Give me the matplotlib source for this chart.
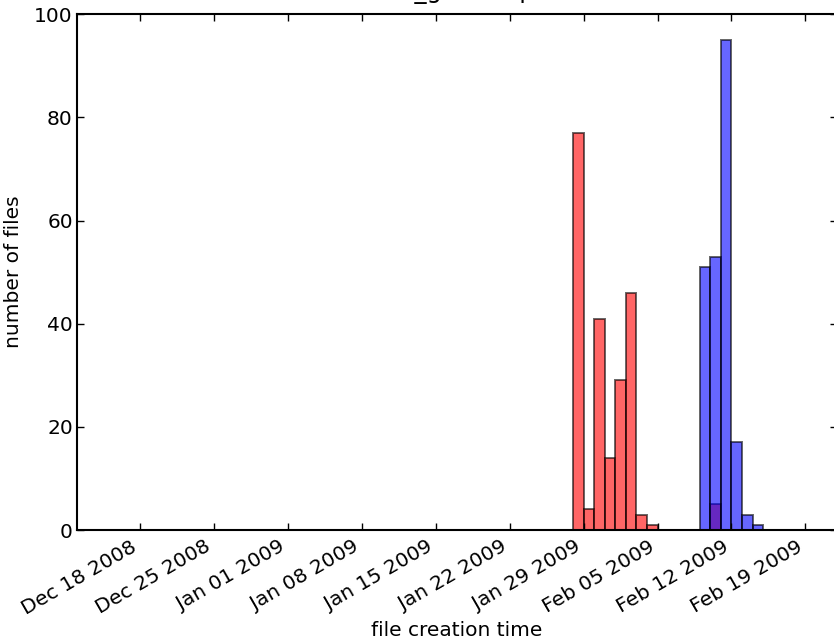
import datetime
import matplotlib
matplotlib.use('Agg')
import matplotlib.pyplot as plt
import matplotlib.dates as mdates

# files per day, first batch (red) and second batch (blue)
red_days = ['2009-01-28', '2009-01-29', '2009-01-30', '2009-01-31',
            '2009-02-01', '2009-02-02', '2009-02-03', '2009-02-04',
            '2009-02-10']
red_counts = [77, 4, 41, 14, 29, 46, 3, 1, 5]

blue_days = ['2009-02-09', '2009-02-10', '2009-02-11', '2009-02-12',
             '2009-02-13', '2009-02-14']
blue_counts = [51, 53, 95, 17, 3, 1]

x_start = '2008-12-12'
x_stop = '2009-02-22'
plot_title = 'file_gen output'


def to_dates(days):
    return [datetime.datetime.strptime(d, '%Y-%m-%d') for d in days]


plt.rcParams['font.family'] = 'DejaVu Sans'
plt.rcParams['font.size'] = 14.5

fig = plt.figure(figsize=(8.34, 6.44), dpi=100)
ax = fig.add_axes([0.0923, 0.177, 0.9113, 0.801])

ax.bar(to_dates(red_days), red_counts, width=1.0, align='edge',
       color='r', edgecolor='k', linewidth=1.4, alpha=0.6)
ax.bar(to_dates(blue_days), blue_counts, width=1.0, align='edge',
       color='b', edgecolor='k', linewidth=1.4, alpha=0.6)

ax.set_xlim(mdates.date2num(to_dates([x_start])[0]),
            mdates.date2num(to_dates([x_stop])[0]))
ax.set_ylim(0, 100)
ax.set_yticks([0, 20, 40, 60, 80, 100])

ax.xaxis.set_major_locator(mdates.WeekdayLocator(byweekday=mdates.TH))
ax.xaxis.set_major_formatter(mdates.DateFormatter('%b %d %Y'))
for lbl in ax.get_xticklabels():
    lbl.set_rotation(30)
    lbl.set_ha('right')

ax.tick_params(direction='in', length=5, width=1, top=True, right=True)
ax.tick_params(axis='x', pad=5)
ax.tick_params(axis='y', pad=3)
for sp in ax.spines.values():
    sp.set_linewidth(1.5)

ax.set_xlabel('file creation time', labelpad=2)
ax.set_ylabel('number of files', labelpad=8)
ax.set_title(plot_title, fontsize=17.4, pad=11.5, x=0.516)

fig.savefig('out.png', dpi=100)
